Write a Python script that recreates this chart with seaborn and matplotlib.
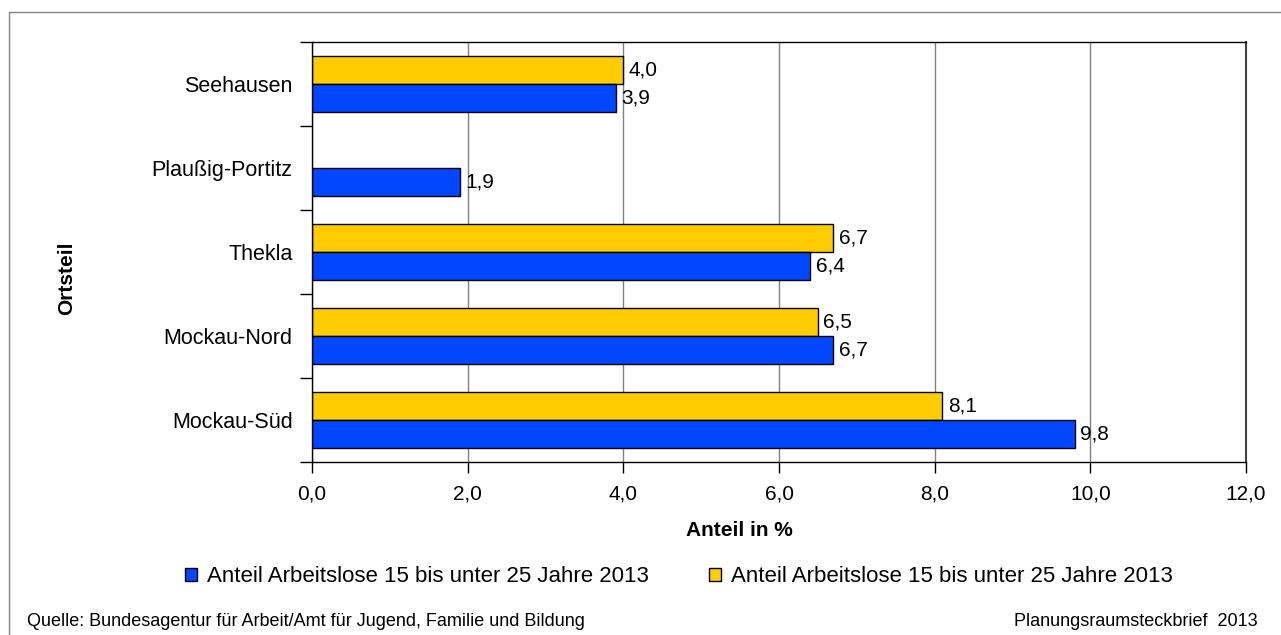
import numpy as np
import pandas as pd
import matplotlib
matplotlib.use("Agg")
import matplotlib.pyplot as plt
from matplotlib.patches import Patch
from matplotlib.lines import Line2D
from matplotlib.ticker import MultipleLocator, FixedLocator
import seaborn as sns

# Ortsteile, top to bottom
ortsteile = ["Seehausen", "Plaußig-Portitz", "Thekla", "Mockau-Nord", "Mockau-Süd"]
# Youth unemployment share (%), two series; no value for Plaußig-Portitz in the first
anteil_gelb = [4.0, np.nan, 6.7, 6.5, 8.1]
anteil_blau = [3.9, 1.9, 6.4, 6.7, 9.8]
legend_label = "Anteil Arbeitslose 15 bis unter 25 Jahre 2013"
x_ticks = [0, 2, 4, 6, 8, 10, 12]

series_keys = ["gelb", "blau"]
palette = {"gelb": "#FFCC00", "blau": "#0047FF"}

df = pd.concat([
    pd.DataFrame({"Ortsteil": ortsteile, "Anteil": anteil_gelb, "Reihe": "gelb"}),
    pd.DataFrame({"Ortsteil": ortsteile, "Anteil": anteil_blau, "Reihe": "blau"}),
]).dropna()

sns.set_theme(style="white")
plt.rcParams["font.family"] = ["Liberation Sans", "DejaVu Sans"]
plt.rcParams.update({
    "text.color": "black",
    "axes.labelcolor": "black",
    "xtick.color": "black",
    "ytick.color": "black",
    "xtick.labelcolor": "black",
    "ytick.labelcolor": "black",
})

W, H = 1281, 635
fig = plt.figure(figsize=(W / 100, H / 100), dpi=100)
ax = fig.add_axes([312 / W, 1 - 462 / H, (1246 - 312) / W, (462 - 42) / H])

sns.barplot(data=df, y="Ortsteil", x="Anteil", hue="Reihe",
            order=ortsteile, hue_order=series_keys, palette=palette,
            orient="h", width=2 / 3, edgecolor="black", linewidth=1,
            saturation=1, legend=False, ax=ax)

for cont in ax.containers:
    labels = [f"{v:.1f}".replace(".", ",") for v in cont.datavalues]
    ax.bar_label(cont, labels=labels, padding=4, fontsize=15, color="black")

# axes ranges and ticks
ax.set_xlim(0, 12)
ax.set_ylim(4.5, -0.5)
ax.xaxis.set_major_locator(FixedLocator(x_ticks))
ax.set_xticklabels([f"{t:.1f}".replace(".", ",") for t in x_ticks], fontsize=15)
ax.tick_params(axis="x", which="major", length=8, width=1, color="black",
               direction="out", pad=8, bottom=True)
ax.yaxis.set_minor_locator(MultipleLocator(1, offset=0.5))
ax.tick_params(axis="y", which="major", length=0, pad=14, labelsize=15.5)
ax.tick_params(axis="y", which="minor", length=9, width=1, color="black",
               direction="out", left=True)

# vertical gridlines
ax.grid(axis="x", color="#808080", linewidth=1)
ax.grid(axis="y", visible=False)
ax.set_axisbelow(True)

for side in ["left", "bottom", "top"]:
    ax.spines[side].set_visible(True)
    ax.spines[side].set_color("black")
    ax.spines[side].set_linewidth(1)
ax.spines["right"].set_visible(True)
ax.spines["right"].set_color("#404040")
ax.spines["right"].set_linewidth(1.5)

# axis titles
ax.set_xlabel("Anteil in %", fontsize=15, fontweight="bold", va="center")
ax.xaxis.set_label_coords((739 - 312) / (1246 - 312), (462 - 531) / (462 - 42))
ax.set_ylabel("Ortsteil", fontsize=15, fontweight="bold", va="center")
ax.yaxis.set_label_coords((67 - 312) / (1246 - 312), (462 - 278) / (462 - 42))

# legend: blue series first
handles = [Patch(facecolor=palette["blau"], edgecolor="black", linewidth=1),
           Patch(facecolor=palette["gelb"], edgecolor="black", linewidth=1)]
fig.legend(handles, [legend_label, legend_label], ncol=2, loc="center",
           bbox_to_anchor=(679 / W, 1 - 577 / H), frameon=False, fontsize=16,
           handlelength=0.55, handleheight=0.55, handletextpad=0.45,
           columnspacing=2.7)

# footer
fig.text(27 / W, 1 - 622 / H, "Quelle: Bundesagentur für Arbeit/Amt für Jugend, Familie und Bildung",
         fontsize=13, ha="left", va="center")
fig.text(1258 / W, 1 - 622 / H, "Planungsraumsteckbrief  2013",
         fontsize=13, ha="right", va="center")

# outer frame (left and top edges)
frame_color = "#808080"
fig.add_artist(Line2D([8.5 / W, 8.5 / W], [0, 1 - 11.5 / H], color=frame_color, linewidth=1))
fig.add_artist(Line2D([8.5 / W, 1], [1 - 11.5 / H, 1 - 11.5 / H], color=frame_color, linewidth=1))

fig.savefig("out.png", dpi=100)
